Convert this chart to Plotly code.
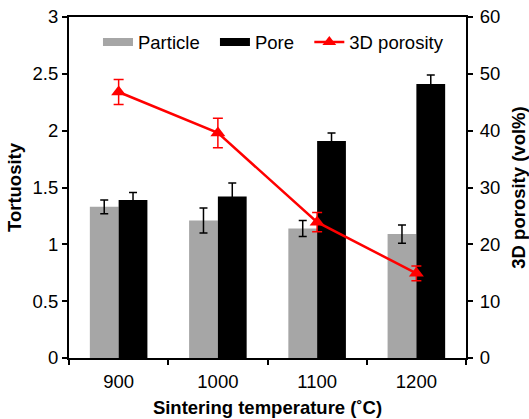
import plotly.graph_objects as go

# Sintering temperatures (°C)
temperatures = ["900", "1000", "1100", "1200"]

# Tortuosity of the particle and pore phases, with error bars
particle_tortuosity = [1.33, 1.21, 1.14, 1.09]
particle_err = [0.06, 0.11, 0.07, 0.08]
pore_tortuosity = [1.39, 1.42, 1.91, 2.41]
pore_err = [0.065, 0.12, 0.07, 0.08]

# 3D porosity (vol%), with error bars
porosity = [46.8, 39.6, 23.9, 14.9]
porosity_err = [2.2, 2.6, 1.7, 1.3]

FONT = "Liberation Sans, Arial, sans-serif"
FS = 18.5
GRAY = "#a6a6a6"
RED = "#ff0000"
PAD = "\u00a0\u00a0"  # extra spacing between legend entries

fig = go.Figure()

fig.add_trace(go.Bar(
    x=temperatures, y=particle_tortuosity, name="Particle",
    marker=dict(color=GRAY, line=dict(width=0)),
    error_y=dict(type="data", array=particle_err, color="black",
                 thickness=1.5, width=4),
    showlegend=False, yaxis="y",
))
fig.add_trace(go.Bar(
    x=temperatures, y=pore_tortuosity, name="Pore",
    marker=dict(color="black", line=dict(width=0)),
    error_y=dict(type="data", array=pore_err, color="black",
                 thickness=1.5, width=4),
    showlegend=False, yaxis="y",
))
fig.add_trace(go.Scatter(
    x=temperatures, y=porosity, name="3D porosity",
    mode="lines+markers",
    line=dict(color=RED, width=2.5),
    marker=dict(symbol="triangle-up", size=13, color=RED),
    error_y=dict(type="data", array=porosity_err, color=RED,
                 thickness=1.5, width=5),
    showlegend=False, yaxis="y2",
))

# Legend entries drawn as wide swatches
fig.add_trace(go.Scatter(x=[None], y=[None], name="Particle" + PAD, mode="lines",
                         line=dict(color=GRAY, width=8), yaxis="y"))
fig.add_trace(go.Scatter(x=[None], y=[None], name="Pore" + PAD, mode="lines",
                         line=dict(color="black", width=8), yaxis="y"))
fig.add_trace(go.Scatter(x=[None], y=[None], name="3D porosity",
                         mode="lines+markers",
                         line=dict(color=RED, width=2.5),
                         marker=dict(symbol="triangle-up", size=12, color=RED),
                         yaxis="y2"))

axis_common = dict(
    showline=True, linecolor="black", linewidth=2,
    ticks="outside", ticklen=5, tickwidth=1.5, tickcolor="black",
    showgrid=False, zeroline=False, automargin=False,
    tickfont=dict(family=FONT, size=FS, color="black"),
)
title_font = dict(family=FONT, size=FS, color="black")

fig.update_layout(
    width=529, height=419,
    margin=dict(l=69, r=63, t=17, b=61),
    paper_bgcolor="white", plot_bgcolor="white",
    barmode="group", bargap=0.42, bargroupgap=0,
    font=dict(family=FONT, size=FS, color="black"),
    xaxis=dict(
        **axis_common, mirror=True, tickson="boundaries",
        type="category", range=[-0.5, 3.5], ticklabelstandoff=6,
        title=dict(text="<b>Sintering temperature (˚C)</b>",
                   font=title_font, standoff=10),
    ),
    yaxis=dict(
        **axis_common, range=[0, 3], dtick=0.5,
        title=dict(text="<b>Tortuosity</b>", font=title_font, standoff=6),
    ),
    yaxis2=dict(
        **axis_common, range=[0, 60], dtick=10,
        overlaying="y", side="right", ticklabelstandoff=3,
        title=dict(text="<b>3D porosity (vol%)</b>", font=title_font,
                   standoff=13),
    ),
    legend=dict(
        orientation="h", x=0.073, y=0.981, xanchor="left", yanchor="top",
        bgcolor="rgba(0,0,0,0)", font=dict(family=FONT, size=FS),
        itemwidth=30, tracegroupgap=0,
    ),
)

fig.write_html("out.html")
